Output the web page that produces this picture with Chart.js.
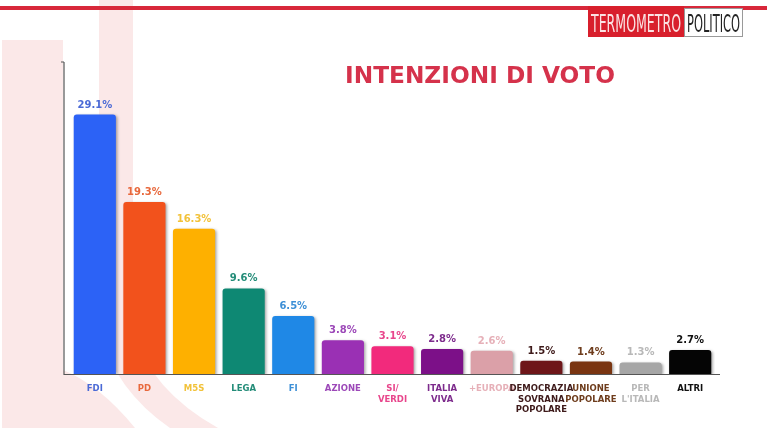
<!DOCTYPE html>
<html>
<head>
<meta charset="utf-8">
<script src="https://cdn.jsdelivr.net/npm/chart.js@4/dist/chart.umd.min.js"></script>
<style>
html,body{margin:0;padding:0;background:#fff;}
#wrap{width:767px;height:428px;position:relative;}
</style>
</head>
<body>
<div id="wrap"><canvas id="c" width="767" height="428"></canvas></div>
<script>
const categories = [["FDI"],["PD"],["M5S"],["LEGA"],["FI"],["AZIONE"],["SI/","VERDI"],["ITALIA","VIVA"],["+EUROPA"],["DEMOCRAZIA","SOVRANA","POPOLARE"],["UNIONE","POPOLARE"],["PER","L'ITALIA"],["ALTRI"]];
const values = [29.1,19.3,16.3,9.6,6.5,3.8,3.1,2.8,2.6,1.5,1.4,1.3,2.7];
const valueLabels = ["29.1%","19.3%","16.3%","9.6%","6.5%","3.8%","3.1%","2.8%","2.6%","1.5%","1.4%","1.3%","2.7%"];
const barColors = ["#2c62f6","#f2521c","#feb000","#0e8873","#1f88e6","#9a30b4","#f22a7c","#7c1088","#dba0a8","#6e1619","#7a3511","#a6a6a6","#050505"];
const labelColors = ["#4b6ad6","#e8683c","#f2c23a","#238c78","#3c8fd6","#9c48b8","#e8468c","#7d2b8c","#e6b0b8","#3e1a1a","#6e3c1c","#b8b8b8","#111111"];
const title = "INTENZIONI DI VOTO";

const FONT = "'DejaVu Sans', 'Noto Sans', sans-serif";

const bgPlugin = {
  id: 'bg',
  beforeDraw(chart) {
    const ctx = chart.ctx;
    ctx.save();
    ctx.fillStyle = '#fff';
    ctx.fillRect(0,0,chart.width,chart.height);
    ctx.fillStyle = '#fbe8e8';
    // left block with curved foot
    ctx.beginPath();
    ctx.moveTo(2,40);
    ctx.lineTo(63,40);
    ctx.lineTo(63,370);
    ctx.quadraticCurveTo(100,385,135,428);
    ctx.lineTo(2,428);
    ctx.closePath();
    ctx.fill();
    // vertical band with curved lower part
    ctx.beginPath();
    ctx.moveTo(99,0);
    ctx.lineTo(133,0);
    ctx.lineTo(133,330);
    ctx.quadraticCurveTo(150,390,218,428);
    ctx.lineTo(170,428);
    ctx.quadraticCurveTo(115,390,99,330);
    ctx.closePath();
    ctx.fill();
    // top red line
    ctx.fillStyle = '#d8283a';
    ctx.fillRect(0,6,767,4);
    // logo
    ctx.fillStyle = '#d81f2c';
    ctx.fillRect(588,6,96,31);
    ctx.fillStyle = '#ffffff';
    ctx.fillRect(684,8,59,29);
    ctx.strokeStyle = '#9a9a9a';
    ctx.lineWidth = 1;
    ctx.strokeRect(684.5,8.5,58,28);
    ctx.textBaseline = 'alphabetic';
    ctx.textAlign = 'left';
    ctx.font = "24px 'Liberation Sans Narrow', 'DejaVu Sans Condensed', sans-serif";
    let w = ctx.measureText('TERMOMETRO').width;
    ctx.save();
    ctx.translate(591,32);
    ctx.scale(90/w,1);
    ctx.fillStyle = '#fbe3e3';
    ctx.fillText('TERMOMETRO',0,0);
    ctx.restore();
    w = ctx.measureText('POLITICO').width;
    ctx.save();
    ctx.translate(687,32);
    ctx.scale(53/w,1);
    ctx.fillStyle = '#222';
    ctx.fillText('POLITICO',0,0);
    ctx.restore();
    // title
    ctx.font = "bold 20px " + FONT;
    const tw = ctx.measureText(title).width;
    const size = 20 * 270 / tw;
    ctx.font = "bold " + size.toFixed(2) + "px " + FONT;
    ctx.fillStyle = '#d5324b';
    ctx.textAlign = 'center';
    ctx.fillText(title, 480, 83);
    ctx.restore();
  },
  beforeDatasetsDraw(chart) {
    const ctx = chart.ctx;
    ctx.save();
    ctx.shadowColor = 'rgba(0,0,0,0.35)';
    ctx.shadowBlur = 3;
    ctx.shadowOffsetX = 1.5;
    ctx.shadowOffsetY = 1;
  },
  afterDatasetsDraw(chart) {
    const ctx = chart.ctx;
    ctx.restore();
    const a = chart.chartArea;
    ctx.save();
    ctx.strokeStyle = '#555';
    ctx.lineWidth = 1.2;
    ctx.beginPath();
    ctx.moveTo(a.left-6, 62);
    ctx.lineTo(a.left-6, a.bottom+0.5);
    ctx.lineTo(a.right+5, a.bottom+0.5);
    ctx.moveTo(a.left-9, 62);
    ctx.lineTo(a.left-6, 62);
    ctx.stroke();
    const meta = chart.getDatasetMeta(0);
    ctx.font = "bold 10px " + FONT;
    ctx.textAlign = 'center';
    ctx.textBaseline = 'alphabetic';
    meta.data.forEach((bar, i) => {
      ctx.fillStyle = labelColors[i];
      ctx.fillText(valueLabels[i], bar.x, bar.y - 7);
    });
    ctx.restore();
  }
};

new Chart(document.getElementById('c'), {
  type: 'bar',
  data: {
    labels: categories,
    datasets: [{
      data: values,
      backgroundColor: barColors,
      borderRadius: 3,
      borderSkipped: 'bottom',
      categoryPercentage: 1,
      barPercentage: 0.85
    }]
  },
  options: {
    responsive: false,
    animation: false,
    devicePixelRatio: 1,
    layout: { padding: { left: 70, right: 52, top: 62, bottom: 0 } },
    plugins: { legend: { display: false }, tooltip: { enabled: false }, title: { display: false } },
    scales: {
      x: {
        grid: { display: false, drawTicks: false },
        border: { display: false },
        ticks: {
          padding: 10,
          maxRotation: 0,
          autoSkip: false,
          font: { family: FONT, size: 8.5, weight: 'bold', lineHeight: 1.2 },
          color: (c) => labelColors[c.index]
        },
        afterFit: (s) => { s.height = 54; }
      },
      y: {
        min: 0,
        max: 35,
        display: true,
        grid: { display: false, drawTicks: false },
        border: { display: false },
        ticks: { display: false },
        afterFit: (s) => { s.width = 0; }
      }
    }
  },
  plugins: [bgPlugin]
});
</script>
</body>
</html>
